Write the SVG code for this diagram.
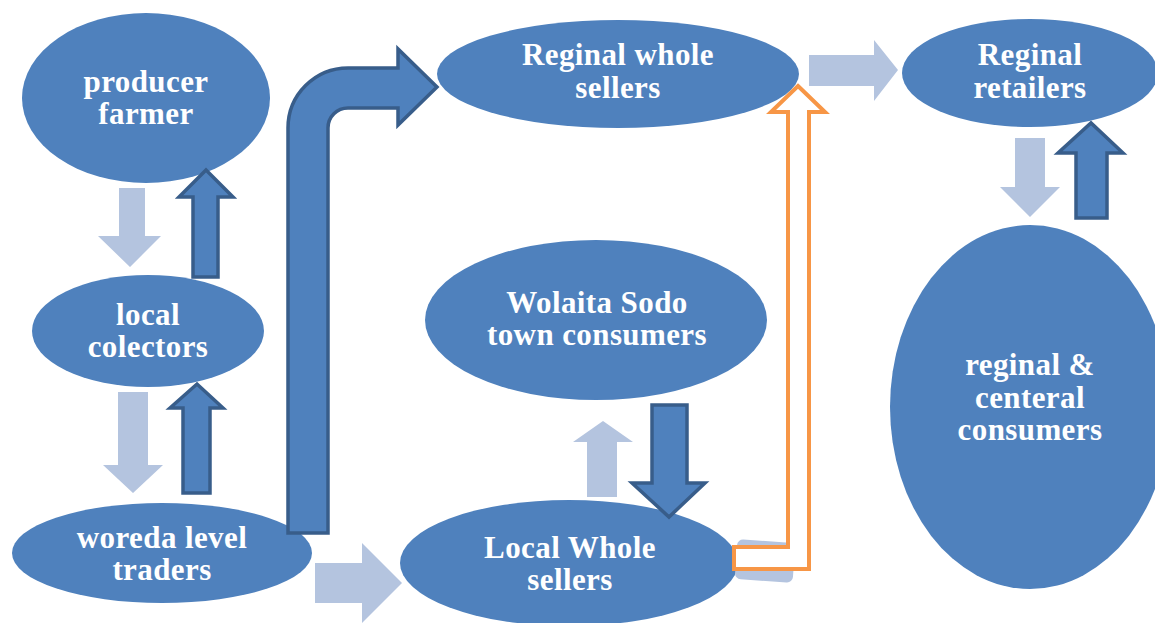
<svg xmlns="http://www.w3.org/2000/svg" width="1155" height="623" viewBox="0 0 1155 623">
<style>
.node{fill:#4f81bd}
.lbl{font-family:"Liberation Serif","Times New Roman",serif;font-weight:bold;font-size:31px;letter-spacing:0.4px;fill:#ffffff;text-anchor:middle}
.light{fill:#b4c4df}
.dark{fill:#4f81bd;stroke:#385d8a;stroke-width:3.5;stroke-linejoin:miter}
.orange{fill:#ffffff;stroke:#f79646;stroke-width:4;stroke-linejoin:miter}
</style>
<rect width="1155" height="623" fill="#ffffff"/>
<g id="producer-farmer">
<ellipse class="node" cx="146" cy="98" rx="124" ry="85"/>
<text class="lbl" x="146" y="92">producer</text>
<text class="lbl" x="146" y="124">farmer</text>
</g>
<g id="local-colectors">
<ellipse class="node" cx="148" cy="331" rx="116" ry="56"/>
<text class="lbl" x="148" y="325">local</text>
<text class="lbl" x="148" y="357">colectors</text>
</g>
<g id="woreda-level-traders">
<ellipse class="node" cx="162" cy="553" rx="150" ry="50"/>
<text class="lbl" x="162" y="548">woreda level</text>
<text class="lbl" x="162" y="580">traders</text>
</g>
<g id="reginal-whole-sellers">
<ellipse class="node" cx="618" cy="74" rx="181" ry="54"/>
<text class="lbl" x="618" y="65">Reginal whole</text>
<text class="lbl" x="618" y="98">sellers</text>
</g>
<g id="wolaita-sodo-town-consumers">
<ellipse class="node" cx="596" cy="320" rx="171" ry="80"/>
<text class="lbl" x="597" y="313">Wolaita Sodo</text>
<text class="lbl" x="597" y="345">town consumers</text>
</g>
<g id="local-whole-sellers">
<ellipse class="node" cx="569" cy="563" rx="169" ry="63"/>
<text class="lbl" x="570" y="558">Local Whole</text>
<text class="lbl" x="570" y="590">sellers</text>
</g>
<g id="reginal-retailers">
<ellipse class="node" cx="1030" cy="73" rx="128" ry="54"/>
<text class="lbl" x="1030" y="65">Reginal</text>
<text class="lbl" x="1030" y="98">retailers</text>
</g>
<g id="reginal-centeral-consumers">
<ellipse class="node" cx="1030" cy="407" rx="140" ry="182"/>
<text class="lbl" x="1030" y="375">reginal &amp;</text>
<text class="lbl" x="1030" y="408">centeral</text>
<text class="lbl" x="1030" y="440">consumers</text>
</g>
<g id="connectors">
<polygon class="light" points="119,188 145,188 145,236 161,236 130,267 98,236 119,236"/>
<polygon class="dark" points="193,277 218,277 218,197 233,197 206,170 179,197 193,197"/>
<polygon class="light" points="118,392 148,392 148,465 163,465 133,493 103,465 118,465"/>
<polygon class="dark" points="183,493 210,493 210,408 223,408 197,384 170,408 183,408"/>
<path class="dark" d="M288,533 L288,128 A60,60 0 0 1 348,68 L398,68 L398,49 L437,87 L398,125 L398,108 L348,108 A20,20 0 0 0 328,128 L328,533 Z"/>
<polygon class="light" points="315,563 362,563 362,543 402,583 362,623 362,603 315,603"/>
<polygon class="light" points="587,497 617,497 617,442 633,442 603,421 573,442 587,442"/>
<polygon class="dark" points="652,405 687,405 687,483 705,483 669,517 632,483 652,483"/>
<polygon class="light" points="809,55 874,55 874,40 898,70 874,101 874,86 809,86"/>
<polygon class="light" points="1015,138 1045,138 1045,187 1060,187 1030,217 1000,187 1015,187"/>
<polygon class="dark" points="1076,218 1107,218 1107,153 1123,153 1091,123 1058,153 1076,153"/>
<rect class="light" x="736" y="541" width="58" height="40" rx="6" transform="rotate(4 765 561)"/>
<path class="orange" d="M798,86 L825,112 L809,112 L809,569 L734,569 L734,547 L788,547 L788,112 L771,112 Z"/>
</g>
</svg>
